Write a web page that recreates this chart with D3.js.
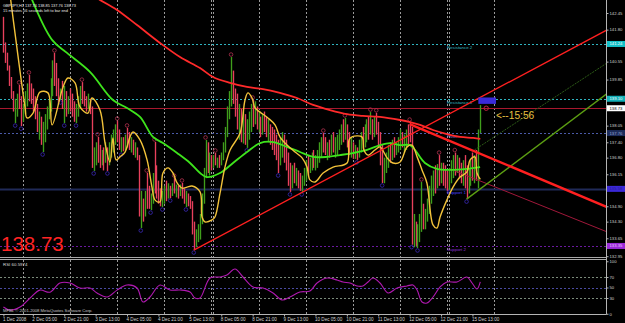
<!DOCTYPE html>
<html><head><meta charset="utf-8">
<script src="https://cdn.jsdelivr.net/npm/d3@7"></script>
<style>html,body{margin:0;padding:0;background:#000;overflow:hidden}svg{display:block}</style>
</head><body>
<script>
// ---------------- DATA ----------------
const symbolHeader = "GBPJPY,H1  137.76 138.85 137.76 138.73";
const timerText = "15 minutes 56 seconds left to bar end";
const firstOpen = 142.20;
const highs = [
142.30,141.30,140.90,140.40,139.95,139.40,139.10,139.30,139.64,139.20,
138.90,139.40,139.70,140.03,139.70,139.50,139.20,138.90,138.60,138.40,
138.20,138.50,138.80,139.10,139.90,140.60,140.89,140.50,139.90,139.50,
139.80,139.60,139.40,139.20,139.50,139.30,139.00,138.90,139.20,139.60,
139.75,139.40,139.20,139.30,139.10,138.80,137.20,137.40,137.61,137.30,
137.10,137.20,137.40,137.20,137.40,137.70,137.90,138.10,138.23,137.90,
137.60,137.60,137.70,137.96,137.80,137.60,137.50,137.40,137.20,136.90,
135.50,135.20,135.50,136.20,135.70,135.40,136.20,137.41,136.50,135.90,
135.60,135.50,135.70,135.90,135.80,135.70,135.80,136.00,135.75,135.70,
135.75,135.81,135.60,135.50,135.40,135.30,135.10,134.30,134.00,134.20,
134.60,135.40,136.40,137.49,137.40,137.00,136.90,136.90,136.98,136.80,
136.90,137.00,137.40,138.00,138.80,139.40,140.73,140.20,139.50,139.30,
138.90,138.70,138.60,138.50,138.30,138.60,138.90,139.05,139.00,138.80,
138.60,138.40,138.50,138.60,138.40,138.30,138.10,138.00,137.90,137.70,
137.50,137.60,137.80,137.70,137.50,137.00,136.60,136.50,136.60,136.40,
136.30,136.20,136.10,136.40,136.70,136.90,136.80,137.00,137.10,136.90,
137.10,137.40,137.60,137.76,137.60,137.40,137.50,137.70,137.80,137.60,
137.70,137.90,138.10,138.30,138.35,138.10,137.80,137.60,137.40,137.30,
137.20,137.50,137.80,138.00,138.10,138.30,138.40,138.58,138.30,138.40,
138.55,138.20,137.80,137.30,136.80,137.00,137.30,137.40,137.50,137.60,
137.40,137.60,137.90,137.80,137.70,137.90,138.10,138.19,138.00,134.60,
134.30,134.20,134.60,135.85,135.00,134.80,135.20,135.70,136.10,136.30,
136.50,136.55,136.90,136.60,136.60,136.50,136.30,136.40,136.70,136.90,
137.00,136.90,136.80,136.60,136.70,136.90,136.50,136.40,136.70,137.00,
136.90,137.10,137.90,138.85];
const lows = [
140.90,140.50,140.20,139.60,139.10,138.60,138.15,138.40,138.70,138.03,
138.20,138.50,138.80,139.00,138.90,138.60,138.30,137.80,137.50,137.30,
137.02,137.40,137.90,138.30,138.60,139.20,139.60,139.20,138.90,139.05,
138.70,138.15,138.40,138.50,138.60,138.40,138.20,138.15,138.40,138.70,
138.90,138.80,138.60,138.70,138.50,136.40,136.28,136.50,136.60,136.40,
136.50,136.30,136.60,136.28,136.50,136.80,137.00,137.30,137.40,137.10,
137.01,137.05,137.10,137.20,137.10,137.00,136.90,136.80,136.70,134.50,
134.05,134.30,134.50,134.80,134.80,134.75,135.00,135.40,135.20,135.00,
134.90,134.87,135.00,135.10,135.20,135.22,135.30,135.40,135.25,135.20,
135.30,135.20,135.00,134.87,134.90,134.80,133.80,133.19,133.30,133.50,
133.60,134.20,135.00,136.00,136.20,136.10,136.30,136.40,136.50,136.40,
136.40,136.50,136.70,137.00,137.60,138.30,138.80,138.90,138.40,137.90,
137.50,137.40,137.35,137.30,137.18,137.50,137.80,138.00,138.10,137.90,
137.80,137.60,137.70,137.80,137.60,137.40,137.30,137.10,136.90,136.70,
136.20,136.50,136.80,136.60,136.30,135.70,135.46,135.60,135.80,135.70,
135.60,135.50,135.46,135.70,135.90,136.10,136.20,136.30,136.40,136.30,
136.40,136.60,136.80,137.00,136.90,136.70,136.80,136.90,137.00,136.80,
136.90,137.10,137.30,137.40,137.50,137.20,136.90,136.80,136.75,136.75,
136.71,136.80,137.00,137.10,137.20,137.40,137.50,137.70,137.50,137.60,
137.70,137.20,136.50,135.81,135.80,136.20,136.40,136.60,136.70,136.80,
136.90,137.00,137.10,137.20,137.00,137.10,137.30,137.40,133.40,133.30,
133.35,133.27,133.50,133.90,134.00,134.00,134.30,134.60,135.00,135.30,
135.40,135.60,135.70,135.80,135.70,135.60,135.50,135.54,135.80,136.00,
136.10,136.20,136.00,135.80,135.70,135.60,135.18,135.40,135.70,135.90,
135.80,135.90,135.60,137.76];
const closes = [
141.00,140.60,140.30,139.70,139.20,138.70,138.90,139.20,138.80,138.40,
138.80,139.30,139.60,139.30,139.10,138.70,138.40,137.90,138.20,137.40,
137.90,138.40,138.70,138.90,139.80,140.40,139.70,139.40,139.30,139.40,
138.80,139.00,138.60,139.10,138.90,138.60,138.40,138.80,139.10,139.50,
139.20,139.00,138.90,139.20,138.70,136.60,137.00,137.30,136.80,136.70,
136.90,136.50,137.20,136.60,137.30,137.60,137.80,137.90,137.60,137.30,
137.40,137.20,137.60,137.50,137.30,137.40,137.10,137.20,136.80,134.70,
135.20,134.50,135.40,135.10,135.00,135.30,136.00,135.70,135.40,135.20,
135.00,135.40,135.50,135.40,135.60,135.30,135.70,135.50,135.60,135.30,
135.70,135.30,135.10,135.30,135.00,134.90,133.90,133.50,133.80,134.10,
134.50,135.30,136.30,136.60,136.40,136.70,136.50,136.80,136.60,136.70,
136.60,136.90,137.30,137.90,138.70,139.30,139.60,139.10,138.60,138.10,
138.20,137.60,137.80,137.40,138.10,138.50,138.70,138.30,138.80,138.10,
138.40,137.80,138.30,138.00,137.70,138.00,137.50,137.30,137.10,136.90,
136.60,137.40,137.50,136.80,136.50,135.90,135.80,136.30,136.00,136.10,
135.80,135.70,136.00,136.30,136.60,136.40,136.70,136.80,136.50,136.80,
137.00,137.30,137.50,137.10,137.00,137.30,137.00,137.60,137.20,137.40,
137.60,137.80,138.00,137.70,138.20,137.40,137.10,137.30,137.00,137.10,
136.90,137.40,137.70,137.40,137.90,138.10,137.80,138.40,137.80,138.20,
137.90,137.40,136.70,136.00,136.60,136.90,137.10,136.90,137.30,137.00,
137.30,137.50,137.80,137.30,137.60,137.80,137.60,137.50,133.60,133.90,
133.50,134.00,134.50,134.60,134.30,134.70,135.10,135.60,135.90,136.20,
135.80,136.40,135.90,136.50,135.90,135.80,135.70,136.20,136.50,136.70,
136.40,136.70,136.20,136.00,136.50,135.80,135.50,136.20,136.50,136.20,
136.60,136.40,137.76,138.73];
const upFractals = [8,13,26,40,48,58,63,73,77,87,91,103,108,116,127,163,174,187,190,207,213,222,230];
const downFractals = [6,9,20,29,31,37,46,53,60,70,75,81,85,93,97,124,140,146,152,180,193,208,211,227,236];

// moving averages: [bar index, price]
const fastMA = [[3.4,143.15],[11.0,138.78],[12.0,138.35],[15.1,138.54],[18.6,139.36],[22.7,139.33],[24.8,138.08],[30.4,139.56],[32.9,139.91],[36.5,139.72],[39.0,138.78],[43.1,138.54],[45.1,139.13],[49.2,138.66],[51.8,137.37],[54.3,136.63],[55.8,137.57],[57.4,136.71],[59.4,136.83],[62.0,137.02],[64.5,137.61],[66.0,137.80],[69.6,137.49],[73.2,136.71],[75.7,135.65],[77.2,135.15],[79.8,135.07],[81.3,136.20],[83.9,136.40],[86.4,136.20],[88.5,135.81],[91.0,135.61],[93.6,135.65],[96.1,135.69],[100.2,135.46],[101.2,134.48],[102.7,134.29],[106.3,134.37],[107.8,134.48],[110.4,135.42],[112.9,136.43],[115.5,137.10],[120.6,137.76],[123.1,139.05],[124.6,139.33],[126.7,139.13],[128.2,138.74],[130.8,138.58],[134.8,138.35],[138.4,138.08],[140.9,137.61],[144.5,137.29],[148.6,137.02],[152.2,136.79],[154.7,136.43],[156.2,135.93],[158.8,135.85],[162.9,136.20],[168.0,136.43],[175.1,136.59],[176.1,137.49],[177.6,137.61],[182.7,137.61],[183.7,137.10],[185.8,136.90],[189.3,137.10],[191.9,137.22],[195.5,136.79],[198.5,136.59],[202.1,136.63],[205.7,137.22],[208.2,137.29],[210.8,136.83],[213.3,136.32],[215.8,135.81],[218.9,134.17],[220.9,134.05],[222.5,134.48],[226.0,135.15],[229.1,135.65],[232.7,136.04],[236.2,136.24],[237.8,136.71],[240.3,136.83],[241.3,136.20],[243.0,135.95]];
const midMA = [[13.6,143.15],[24.8,141.40],[32.4,140.89],[44.1,140.15],[55.8,139.05],[63.0,138.74],[69.6,138.39],[76.2,137.61],[81.3,137.37],[88.5,136.98],[95.1,136.59],[100.2,136.20],[103.7,136.04],[110.4,136.20],[117.0,136.59],[124.1,137.02],[130.8,137.37],[137.4,137.41],[144.5,137.22],[151.1,137.02],[157.8,136.83],[164.9,136.83],[171.5,136.90],[178.1,136.98],[185.3,137.10],[191.9,137.29],[197.0,137.37],[202.1,137.29],[207.2,137.29],[209.7,137.10],[214.8,136.59],[220.9,136.36],[227.6,136.32],[236.2,136.36],[242.9,136.43]];
const slowMA = [[45.1,143.15],[49.2,142.96],[57.9,142.57],[68.1,141.98],[79.8,141.28],[90.0,140.73],[100.2,140.30],[106.8,139.95],[115.5,139.72],[124.1,139.56],[132.3,139.48],[140.9,139.33],[149.6,139.13],[157.8,138.86],[166.4,138.66],[175.1,138.50],[183.2,138.43],[191.9,138.39],[202.1,138.27],[207.2,138.19],[212.3,138.08],[218.9,137.88],[226.0,137.72],[232.7,137.61],[239.4,137.57],[243.0,137.53]];
const rsiPts = [[0,12.9],[3.4,7],[8.5,12.9],[13.6,30],[18.6,45],[23.7,41],[28.8,58.6],[33.9,58.6],[39.0,49],[44.1,49],[47.7,39.5],[52.8,32],[57.9,45],[63.0,54.8],[68.1,49],[71.1,22.4],[74.7,31.9],[79.8,54.8],[84.9,45.2],[90.0,45.2],[95.1,41.4],[97.6,30],[100.2,30],[105.3,68],[110.4,70],[113.9,73.8],[118.0,85.2],[122.1,70],[127.2,51],[132.3,49],[137.4,39.5],[142.0,26.2],[146.0,31.9],[151.1,41.4],[156.2,43.3],[159.8,58.6],[164.9,68],[170.0,64.3],[173.0,60.5],[176.6,58.6],[180.2,52.9],[183.2,52.9],[185.8,60.5],[188.3,68],[191.9,58.6],[196.0,39.5],[200.6,49],[205.7,52.9],[208.7,54.8],[210.8,45.2],[213.3,22.4],[215.8,20.5],[218.9,31.9],[222.5,51],[226.0,60.5],[231.1,60.5],[236.2,70],[238.8,58.6],[241.3,47.1],[243,60.6]];
const rsiLabel = "RSI 60.5974";
const rsiLevels = [70,50,30];
const rsiTicks = [100,70,50,30,0];

// trend lines: [startBar, startPrice, endBar, endPrice]
const trendUp = [97,133.19,307.6,141.79];
const trendDownThick = [207,138.11,307.6,134.87];
const trendDownThin = [227.6,136.36,307.6,133.90];
const forkOlive = [236,135.18,307.6,139.30];
const forkDark = [240,137.10,307.6,140.50];

// pivot levels
const levelNames = ["Resistance 2","Resistance 1","Pivot","Support 1","Support 2"];
const levelValues = [141.24,139.10,137.76,135.58,133.35];
const levelLabelBar = 226;
const currentPrice = 138.73;
const timeLeftLabel = "<--15:56";
const bigPriceLabel = "138.73";
const copyright = "MFBL © 2001-2008 MetaQuotes Software Corp.";

const priceTicks = [142.45,141.80,140.55,139.85,138.05,137.40,136.80,136.15,134.90,134.30,133.65,132.95];
const dateIdx = [0,15,31,47,63,79,95,111,127,143,159,175,191,207,223,239];
const dateLabels = ["1 Dec 2008","2 Dec 05:00","2 Dec 21:00","3 Dec 13:00","4 Dec 05:00","4 Dec 21:00","5 Dec 13:00","8 Dec 05:00","8 Dec 21:00","9 Dec 13:00","10 Dec 05:00","10 Dec 21:00","11 Dec 13:00","12 Dec 05:00","12 Dec 21:00","15 Dec 13:00"];
const dayStarts = [10,34,58,82,106,130,154,178,202,226,250];
const weekStarts = [106,226];
const timeBox = [242,251,139.15,138.90];

// ---------------- DRAW ----------------
const W=625,H=323, FONT="'Liberation Sans', Arial, sans-serif";
const axisX = 606.5, mainBottom = 257, rsiTop = 260, rsiBottom = 314.5;
const svg = d3.select("body").append("svg").attr("width",W).attr("height",H).style("background","#000");
svg.append("rect").attr("width",W).attr("height",H).attr("fill","#000");

const x = d3.scaleLinear().domain([0,243]).range([3.4,480.3]);
const y = d3.scaleLinear().domain([142.45,132.95]).range([13,256.2]);
const yr = d3.scaleLinear().domain([0,100]).range([313.75,261.25]);

const defs = svg.append("defs");
defs.append("clipPath").attr("id","cm").append("rect").attr("x",0).attr("y",0).attr("width",axisX).attr("height",mainBottom);
defs.append("clipPath").attr("id","cr").append("rect").attr("x",0).attr("y",rsiTop).attr("width",axisX).attr("height",rsiBottom-rsiTop);

const gm = svg.append("g").attr("clip-path","url(#cm)");
const gr = svg.append("g").attr("clip-path","url(#cr)");

// vertical grid (both panels)
[gm,gr].forEach((g,k)=>{
  const y0 = k===0?0:rsiTop, y1 = k===0?mainBottom:rsiBottom;
  dayStarts.forEach(d=>{
    const xx = Math.round(x(d))+0.5;
    g.append("line").attr("x1",xx).attr("x2",xx).attr("y1",y0).attr("y2",y1)
      .attr("stroke","#9a9a9a").attr("stroke-width",1).attr("stroke-dasharray","2,2");
  });
  weekStarts.forEach(d=>{
    const xx = Math.round(x(d))+2.5;
    g.append("line").attr("x1",xx).attr("x2",xx).attr("y1",y0).attr("y2",y1)
      .attr("stroke","#9a9a9a").attr("stroke-width",1).attr("stroke-dasharray","2,2");
  });
});

// pivot levels
const levelStyle = [
  {c:"#2fb3c0",dash:"2,2",w:1,t:"#35b8c4"},
  {c:"#2fb3c0",dash:"2,2",w:1,t:"#35b8c4"},
  {c:"#4a5aa8",dash:"2,2",w:1,t:"#8a70d0"},
  {c:"#202a58",dash:null,w:2,t:"#4a40ff"},
  {c:"#6a1aa0",dash:"2,2",w:1,t:"#8a30d0"}
];
levelValues.forEach((v,i)=>{
  const yy = Math.round(y(v))+0.5, s = levelStyle[i];
  const ln = gm.append("line").attr("x1",0).attr("x2",axisX).attr("y1",yy).attr("y2",yy)
    .attr("stroke",s.c).attr("stroke-width",s.w);
  if(s.dash) ln.attr("stroke-dasharray",s.dash);
  gm.append("text").attr("x",x(levelLabelBar)).attr("y",yy+4.5).text(levelNames[i])
    .attr("fill",s.t).attr("font-size",4.4).attr("font-family",FONT);
});
// current price line
gm.append("line").attr("x1",0).attr("x2",axisX).attr("y1",Math.round(y(currentPrice))+0.5).attr("y2",Math.round(y(currentPrice))+0.5)
  .attr("stroke","#a8182e").attr("stroke-width",1);

// bars
const n = Math.min(highs.length,lows.length,closes.length);
for(let i=0;i<n;i++){
  const o = i===0?firstOpen:closes[i-1];
  const up = closes[i]>=o;
  const xx = Math.round(x(i))+0.5;
  gm.append("line").attr("x1",xx).attr("x2",xx).attr("y1",y(highs[i])).attr("y2",y(lows[i]))
    .attr("stroke",up?"#3f9e1c":"#e8405c").attr("stroke-width",1.35);
}

// fractals
upFractals.forEach(i=>{
  gm.append("circle").attr("cx",x(i)).attr("cy",y(highs[i])-2.5).attr("r",1.8)
    .attr("fill","none").attr("stroke","#b0304e").attr("stroke-width",0.8);
});
downFractals.forEach(i=>{
  gm.append("circle").attr("cx",x(i)).attr("cy",y(lows[i])+2.5).attr("r",1.8)
    .attr("fill","none").attr("stroke","#3a28b8").attr("stroke-width",0.8);
});

// trend lines
function tl(a,color,w,dash){
  const l = gm.append("line").attr("x1",x(a[0])).attr("y1",y(a[1])).attr("x2",x(a[2])).attr("y2",y(a[3]))
    .attr("stroke",color).attr("stroke-width",w);
  if(dash) l.attr("stroke-dasharray",dash);
}
tl(trendDownThin,"#a0183a",1);
tl(forkDark,"#2c5a16",1,"2,1");
tl(forkOlive,"#5c9e12",1.4);

// moving averages
const mline = d3.line().x(d=>x(d[0])).y(d=>y(d[1])).curve(d3.curveCatmullRom.alpha(0.5));
gm.append("path").attr("d",mline(slowMA)).attr("fill","none").attr("stroke","#ff2a2a").attr("stroke-width",1.8);
gm.append("path").attr("d",mline(midMA)).attr("fill","none").attr("stroke","#3ee41c").attr("stroke-width",1.8);
gm.append("path").attr("d",mline(fastMA)).attr("fill","none").attr("stroke","#f2c23a").attr("stroke-width",1.4);

tl(trendUp,"#ff2020",1.3);
tl(trendDownThick,"#ff2020",2.4);

// time box & marker
gm.append("rect").attr("x",x(timeBox[0])).attr("y",y(timeBox[2])).attr("width",x(timeBox[1])-x(timeBox[0])).attr("height",y(timeBox[3])-y(timeBox[2]))
  .attr("fill","#3a2ad8");
gm.append("circle").attr("cx",x(246)).attr("cy",y(currentPrice)).attr("r",2.2).attr("fill","none").attr("stroke","#c02040").attr("stroke-width",1);
gm.append("text").attr("x",x(251)).attr("y",y(currentPrice)+11).text(timeLeftLabel)
  .attr("fill","#e8c040").attr("font-size",10.2).attr("font-family",FONT);

// header texts
svg.append("text").attr("x",3).attr("y",7).text(symbolHeader).attr("fill","#e6e6e6").attr("font-size",3.9).attr("font-family",FONT);
svg.append("text").attr("x",3).attr("y",12).text(timerText).attr("fill","#e6e6e6").attr("font-size",3.9).attr("font-family",FONT);
svg.append("text").attr("x",1).attr("y",251).text(bigPriceLabel).attr("fill","#ff2424").attr("font-size",20.5).attr("font-family",FONT);

// RSI panel
rsiLevels.forEach((v,i)=>{
  const yy = Math.round(yr(v))+0.5;
  gr.append("line").attr("x1",0).attr("x2",axisX).attr("y1",yy).attr("y2",yy)
    .attr("stroke",v===50?"#4a4aa0":"#7a8a7a").attr("stroke-width",1).attr("stroke-dasharray","2,2");
});
const rline = d3.line().x(d=>x(d[0])).y(d=>yr(d[1])).curve(d3.curveCatmullRom.alpha(0.5));
gr.append("path").attr("d",rline(rsiPts)).attr("fill","none").attr("stroke","#b018b0").attr("stroke-width",1.1);
svg.append("text").attr("x",3).attr("y",266).text(rsiLabel).attr("fill","#dcdcdc").attr("font-size",4.4).attr("font-family",FONT);
svg.append("text").attr("x",3).attr("y",312).text(copyright).attr("fill","#c8c8c8").attr("font-size",4.2).attr("font-family",FONT);

// frame lines
svg.append("line").attr("x1",axisX).attr("x2",axisX).attr("y1",0).attr("y2",rsiBottom).attr("stroke","#b4b4b4");
svg.append("line").attr("x1",0).attr("x2",axisX).attr("y1",257.5).attr("y2",257.5).attr("stroke","#a8a8a8");
svg.append("line").attr("x1",0).attr("x2",axisX).attr("y1",259.5).attr("y2",259.5).attr("stroke","#a8a8a8");
svg.append("line").attr("x1",0).attr("x2",axisX).attr("y1",rsiBottom).attr("y2",rsiBottom).attr("stroke","#b4b4b4");

// price axis
const ga = svg.append("g").attr("transform",`translate(${axisX},0)`)
  .call(d3.axisRight(y).tickValues(priceTicks).tickSize(2).tickPadding(1).tickFormat(d3.format(".2f")));
ga.select(".domain").remove();
ga.attr("font-size",4.2).attr("font-family",FONT);
ga.selectAll("text").attr("fill","#d0d0d0");
ga.selectAll("line").attr("stroke","#b4b4b4");

// level boxes on the axis
const boxes = [
  {v:levelValues[0],bg:"#12c0c8",fg:"#ffffff"},
  {v:levelValues[1],bg:"#12b0b8",fg:"#ffffff"},
  {v:currentPrice,bg:"#ffffff",fg:"#000000"},
  {v:levelValues[2],bg:"#1c2c5c",fg:"#9aa6d0"},
  {v:levelValues[3],bg:"#3a28d8",fg:"#2a1a90"},
  {v:levelValues[4],bg:"#9a2ad8",fg:"#e8c8ff"}
];
boxes.forEach(b=>{
  const yy = y(b.v);
  svg.append("rect").attr("x",axisX+0.5).attr("y",yy-3).attr("width",W-axisX).attr("height",6).attr("fill",b.bg);
  svg.append("text").attr("x",axisX+3).attr("y",yy).attr("dy","0.36em").text(d3.format(".2f")(b.v))
    .attr("fill",b.fg).attr("font-size",4.2).attr("font-family",FONT);
});

// RSI axis
const gra = svg.append("g").attr("transform",`translate(${axisX},0)`)
  .call(d3.axisRight(yr).tickValues(rsiTicks).tickSize(2).tickPadding(1));
gra.select(".domain").remove();
gra.attr("font-size",4.2).attr("font-family",FONT);
gra.selectAll("text").attr("fill","#d0d0d0");
gra.selectAll("line").attr("stroke","#b4b4b4");

// time axis
const gx = svg.append("g").attr("transform",`translate(0,${rsiBottom})`)
  .call(d3.axisBottom(x).tickValues(dateIdx).tickSize(2).tickPadding(1).tickFormat((d,i)=>dateLabels[i]));
gx.select(".domain").remove();
gx.attr("font-size",4.6).attr("font-family",FONT);
gx.selectAll("text").attr("fill","#d0d0d0").attr("text-anchor","start").attr("dx",-1);
gx.selectAll("line").attr("stroke","#b4b4b4");
</script>
</body></html>
